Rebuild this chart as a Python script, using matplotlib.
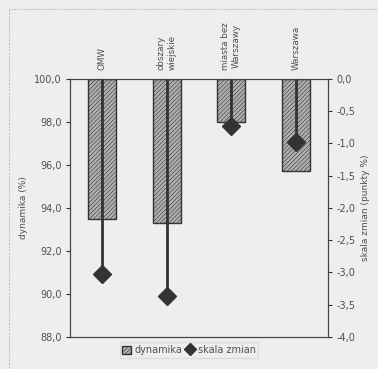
import matplotlib
matplotlib.use("Agg")
import matplotlib.pyplot as plt
from matplotlib.patches import Patch, Rectangle
from matplotlib.lines import Line2D
from matplotlib.ticker import FuncFormatter
import matplotlib.transforms as mtransforms

# Dynamika (%) and skala zmian (punkty procentowe) per region
regions = ["OMW", "obszary\nwiejskie", "miasta bez\nWarszawy", "Warszawa"]
dynamika = [93.5, 93.3, 98.0, 95.7]
skala_zmian = [-3.02, -3.36, -0.73, -0.97]

BG = "#eeeeee"
DARK = "#333333"
TXT = "#505050"
FILL = "#b0b0b0"

plt.rcParams["hatch.linewidth"] = 0.4
plt.rcParams["hatch.color"] = "#8a8a8a"

fig = plt.figure(figsize=(3.78, 3.69), dpi=100, facecolor=BG)
ax = fig.add_axes([0.185, 0.087, 0.683, 0.699], facecolor=BG)

x = list(range(len(regions)))
ax.bar(x, [d - 100 for d in dynamika], bottom=100, width=0.43,
       facecolor=FILL, edgecolor=DARK, linewidth=1.0, hatch="////////",
       zorder=2)
ax.set_ylim(88, 100)
ax.set_xlim(-0.5, len(regions) - 0.5)
ax.set_yticks([88, 90, 92, 94, 96, 98, 100])
comma = lambda fmt: FuncFormatter(lambda v, p: (fmt % v).replace(".", ","))
ax.yaxis.set_major_formatter(comma("%.1f"))
ax.set_xticks([])
ax.set_ylabel("dynamika (%)", fontsize=6.5, color=TXT, labelpad=4)

ax2 = ax.twinx()
ax2.set_ylim(-4.0, 0.0)
ax2.set_yticks([-4.0, -3.5, -3.0, -2.5, -2.0, -1.5, -1.0, -0.5, 0.0])
ax2.yaxis.set_major_formatter(comma("%.1f"))
ax2.vlines(x, 0, skala_zmian, color=DARK, lw=2.0, zorder=3)
ax2.plot(x, skala_zmian, ls="none", marker="D", ms=9, color=DARK,
         mec=DARK, zorder=4)
ax2.set_ylabel("skala zmian (punkty %)", fontsize=6.5, color=TXT,
               rotation=90, labelpad=4)

for a in (ax, ax2):
    a.tick_params(axis="y", labelsize=7, labelcolor=TXT, length=3,
                  width=0.8, color=DARK, pad=3)
    for s in a.spines.values():
        s.set_color("#444444")
        s.set_linewidth(0.8)

# category names above the plot, rotated
trans = mtransforms.blended_transform_factory(ax.transData, ax.transAxes)
for xi, name in zip(x, regions):
    ax.text(xi, 1.035, name, transform=trans, rotation=90, ha="center",
            va="bottom", fontsize=6.3, color=TXT, linespacing=1.25,
            multialignment="center")

handles = [Patch(facecolor=FILL, edgecolor=DARK, hatch="////////"),
           Line2D([], [], ls="none", marker="D", ms=6, color=DARK)]
leg = fig.legend(handles, ["dynamika", "skala zmian"], ncol=2,
                 loc="center", bbox_to_anchor=(0.5, 0.051), fontsize=7,
                 frameon=True, handlelength=0.9, handleheight=0.9,
                 handletextpad=0.3, columnspacing=0.4, borderpad=0.3,
                 fancybox=False)
leg.get_frame().set_edgecolor("#d8d8d8")
leg.get_frame().set_facecolor(BG)
for t in leg.get_texts():
    t.set_color(TXT)

# outer chart frame
fig.patches.append(Rectangle((9 / 378, -0.05), 1.1, 1.05 - 9 / 369,
                             transform=fig.transFigure, fill=False,
                             edgecolor="#c4c4c4", lw=0.8, ls=(0, (2, 1))))

fig.savefig("out.png", dpi=100, facecolor=BG)
